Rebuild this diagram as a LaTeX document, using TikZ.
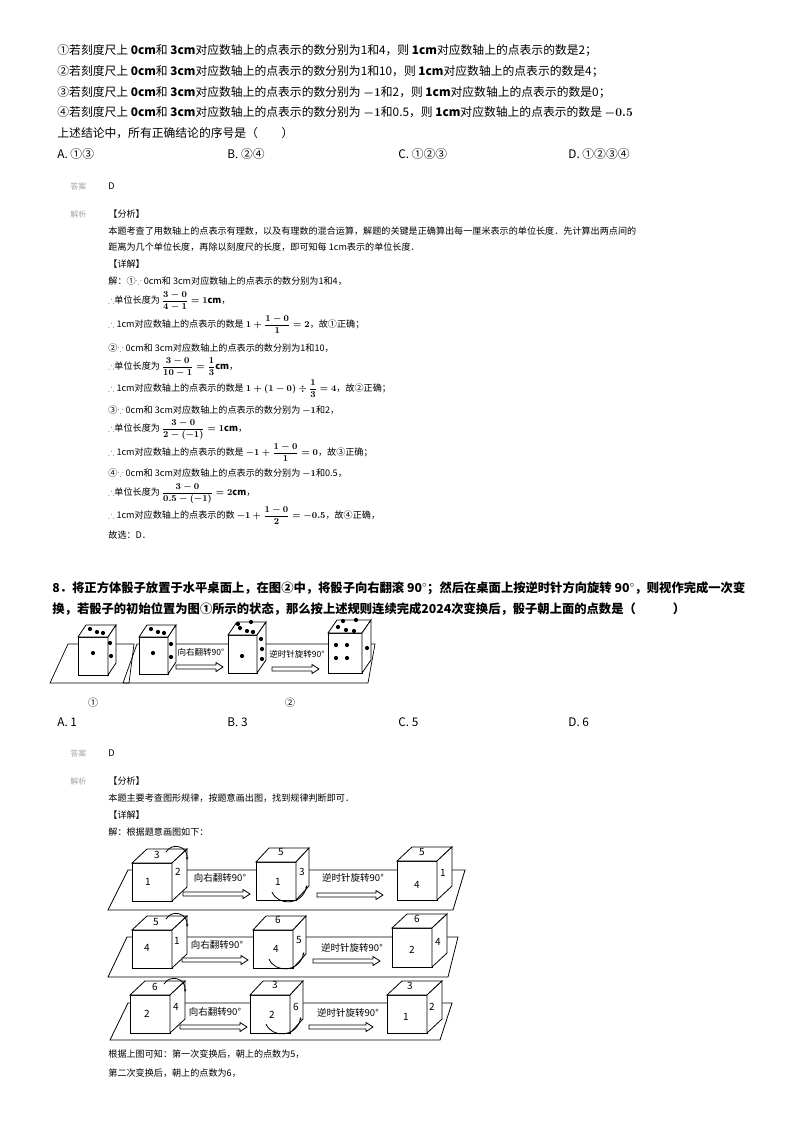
\documentclass[tikz,border=0pt]{standalone}
\usepackage{amsmath,amssymb}
\usepackage{fontspec}
\setmainfont{Noto Sans CJK SC}
\usetikzlibrary{arrows.meta}
\newcommand\dcube[6]{%
 \filldraw[fill=white] (#1,#2) rectangle ++(#3,#4);
 \filldraw[fill=white] (#1,#2) -- ++(#5,-#6) -- ++(#3,0) -- ++(-#5,#6) -- cycle;
 \filldraw[fill=white] (#1+#3,#2) -- ++(#5,-#6) -- ++(0,#4) -- ++(-#5,#6) -- cycle;}
\newcommand\blkarrow[3]{%
 \draw[fill=white] (#1,#3-2) -- (#2-7,#3-2) -- (#2-7,#3-4.5) -- (#2,#3) -- (#2-7,#3+4.5) -- (#2-7,#3+2) -- (#1,#3+2) -- cycle;}
\newcommand\pip[2]{\fill (#1,#2) circle (2.1);}
\tikzset{tx/.style={anchor=west,inner sep=0pt,font=\fontsize{11.8}{13}\selectfont},
 qx/.style={anchor=west,inner sep=0pt,font=\fontsize{12.3}{13}\selectfont\bfseries},
 sm/.style={anchor=west,inner sep=0pt,font=\fontsize{9.1}{10}\selectfont\boldmath},
 gy/.style={anchor=west,inner sep=0pt,font=\fontsize{8}{10}\selectfont,text=gray!70},
 lb/.style={inner sep=0pt,font=\fontsize{9.5}{11}\selectfont},
 lbs/.style={inner sep=0pt,font=\fontsize{8.5}{10}\selectfont},
 nm/.style={inner sep=0pt,font=\fontsize{10}{11}\selectfont}}
\begin{document}
\begin{tikzpicture}[x=1pt,y=-1pt,line width=0.8pt]
\useasboundingbox[fill=white] (0,0) rectangle (794,1124);
% Question 7 options
\node[tx] (l1) at (57,50) {①若刻度尺上 $\mathbf{0cm}$和 $\mathbf{3cm}$对应数轴上的点表示的数分别为1和4，则 $\mathbf{1cm}$对应数轴上的点表示的数是2；};
\node[tx] (l2) at (57,71) {②若刻度尺上 $\mathbf{0cm}$和 $\mathbf{3cm}$对应数轴上的点表示的数分别为1和10，则 $\mathbf{1cm}$对应数轴上的点表示的数是4；};
\node[tx] (l3) at (57,92) {③若刻度尺上 $\mathbf{0cm}$和 $\mathbf{3cm}$对应数轴上的点表示的数分别为 $\boldsymbol{-1}$和2，则 $\mathbf{1cm}$对应数轴上的点表示的数是0；};
\node[tx] (l4) at (57,112) {④若刻度尺上 $\mathbf{0cm}$和 $\mathbf{3cm}$对应数轴上的点表示的数分别为 $\boldsymbol{-1}$和0.5，则 $\mathbf{1cm}$对应数轴上的点表示的数是 $\boldsymbol{-0.5}$};
\node[tx] (l5) at (57,133) {上述结论中，所有正确结论的序号是（\qquad）};
\node[tx] (oa) at (57,154) {A. ①③};
\node[tx] (ob) at (227,154) {B. ②④};
\node[tx] (oc) at (398,154) {C. ①②③};
\node[tx] (od) at (568,154) {D. ①②③④};
% answer 7
\node[gy] (da1) at (70,186) {答案};
\node[sm] (dd1) at (108,186) {D};
\node[gy] (jx1) at (70,214) {解析};
\node[sm] (a1) at (108,214) {【分析】};
\node[sm] (a2) at (108,231) {本题考查了用数轴上的点表示有理数，以及有理数的混合运算，解题的关键是正确算出每一厘米表示的单位长度．先计算出两点间的};
\node[sm] (a3) at (108,247) {距离为几个单位长度，再除以刻度尺的长度，即可知每 1cm表示的单位长度．};
\node[sm] (a4) at (108,264) {【详解】};
\node[sm] (a5) at (108,281) {解：①$\because$ 0cm和 3cm对应数轴上的点表示的数分别为1和4，};
\node[sm] (a6) at (108,301) {$\therefore$单位长度为 $\dfrac{3-0}{4-1}=1\mathrm{cm}$，};
\node[sm] (a7) at (108,325) {$\therefore$ 1cm对应数轴上的点表示的数是 $1+\dfrac{1-0}{1}=2$，故①正确；};
\node[sm] (a8) at (108,348) {②$\because$ 0cm和 3cm对应数轴上的点表示的数分别为1和10，};
\node[sm] (a9) at (108,367) {$\therefore$单位长度为 $\dfrac{3-0}{10-1}=\dfrac{1}{3}\mathrm{cm}$，};
\node[sm] (a10) at (108,389) {$\therefore$ 1cm对应数轴上的点表示的数是 $1+(1-0)\div\dfrac{1}{3}=4$，故②正确；};
\node[sm] (a11) at (108,410) {③$\because$ 0cm和 3cm对应数轴上的点表示的数分别为 $-1$和2，};
\node[sm] (a12) at (108,430) {$\therefore$单位长度为 $\dfrac{3-0}{2-(-1)}=1\mathrm{cm}$，};
\node[sm] (a13) at (108,453) {$\therefore$ 1cm对应数轴上的点表示的数是 $-1+\dfrac{1-0}{1}=0$，故③正确；};
\node[sm] (a14) at (108,473) {④$\because$ 0cm和 3cm对应数轴上的点表示的数分别为 $-1$和0.5，};
\node[sm] (a15) at (108,494) {$\therefore$单位长度为 $\dfrac{3-0}{0.5-(-1)}=2\mathrm{cm}$，};
\node[sm] (a16) at (108,516) {$\therefore$ 1cm对应数轴上的点表示的数 $-1+\dfrac{1-0}{2}=-0.5$，故④正确，};
\node[sm] (a17) at (108,535) {故选：D．};
% Question 8
\node[qx] (q1) at (52,588) {8．将正方体骰子放置于水平桌面上，在图②中，将骰子向右翻滚 $\mathbf{90^\circ}$；然后在桌面上按逆时针方向旋转 $\mathbf{90^\circ}$，则视作完成一次变};
\node[qx] (q2) at (52,609) {换，若骰子的初始位置为图①所示的状态，那么按上述规则连续完成2024次变换后，骰子朝上面的点数是（\qquad\quad）};
% figure
\draw[line width=0.7pt] (50,683) -- (68,644) -- (134,644) -- (129,683) -- cycle;
\draw[line width=0.7pt] (123,683) -- (137,644) -- (375,644) -- (368,683) -- cycle;
\dcube{78}{637}{30}{38}{8}{12}
\pip{90}{629}\pip{97}{632}\pip{103}{633}\pip{93}{653}\pip{110}{643}\pip{111}{656}
\dcube{139}{637}{29}{37}{8}{12}
\pip{151}{629}\pip{158}{632}\pip{164}{633}\pip{153}{653}\pip{171}{644}\pip{171}{657}
\blkarrow{176}{223}{667}
\node[lbs] (r1) at (201,652) {向右翻转90°};
\dcube{228}{635}{29}{38}{9}{13}
\pip{240}{628}\pip{247}{631}\pip{253}{632}\pip{238}{624}\pip{251}{622}\pip{242}{656}\pip{261}{639}\pip{262}{649}\pip{262}{659}
\blkarrow{272}{319}{669}
\node[lbs] (r2) at (297,654) {逆时针旋转90°};
\dcube{328}{633}{34}{40}{9}{13}
\pip{338}{627}\pip{346}{630}\pip{354}{631}\pip{343}{621}\pip{356}{620}\pip{336}{645}\pip{347}{645}\pip{336}{658}\pip{347}{658}\pip{367}{648}
\node[nm] (c1) at (93,703) {①};
\node[nm] (c2) at (290,703) {②};
\node[tx] (pa) at (57,722) {A. 1};
\node[tx] (pb) at (227,722) {B. 3};
\node[tx] (pc) at (398,722) {C. 5};
\node[tx] (pd) at (568,722) {D. 6};
% answer 8
\node[gy] (da2) at (70,753) {答案};
\node[sm] (dd2) at (108,753) {D};
\node[gy] (jx2) at (70,781) {解析};
\node[sm] (b1) at (108,781) {【分析】};
\node[sm] (b2) at (108,798) {本题主要考查图形规律，按题意画出图，找到规律判断即可．};
\node[sm] (b3) at (108,815) {【详解】};
\node[sm] (b4) at (108,832) {解：根据题意画图如下：};
% row 1
\draw (108,910) -- (128,870) -- (465,870) -- (453,910) -- cycle;
\dcube{132}{863}{40}{38}{15}{14}
\node[nm] at (148,882) {1};\node[nm] at (157,855) {3};\node[nm] at (178,872) {2};
\draw[-{Stealth[length=3pt]}] (166,852) .. controls (172,842) and (188,846) .. (187,860);
\blkarrow{183}{250}{894}
\node[lb] (s1) at (220,878) {向右翻转90°};
\dcube{256}{862}{40}{38}{13}{14}
\node[nm] at (278,882) {1};\node[nm] at (281,852) {5};\node[nm] at (302,872) {3};
\draw[-{Stealth[length=3pt]}] (272,892) .. controls (278,906) and (302,906) .. (307,885);
\blkarrow{317}{383}{895}
\node[lb] (s2) at (353,878) {逆时针旋转90°};
\dcube{397}{861}{40}{39}{15}{14}
\node[nm] at (417,885) {4};\node[nm] at (422,852) {5};\node[nm] at (443,873) {1};
% row 2
\draw (108,977) -- (127,937) -- (458,937) -- (448,977) -- cycle;
\dcube{132}{930}{40}{38}{15}{14}
\node[nm] at (147,948) {4};\node[nm] at (156,922) {5};\node[nm] at (177,941) {1};
\draw[-{Stealth[length=3pt]}] (166,919) .. controls (172,909) and (188,913) .. (187,927);
\blkarrow{182}{248}{960}
\node[lb] (s3) at (217,945) {向右翻转90°};
\dcube{253}{930}{40}{38}{13}{14}
\node[nm] at (276,949) {4};\node[nm] at (278,920) {6};\node[nm] at (299,940) {5};
\draw[-{Stealth[length=3pt]}] (269,959) .. controls (275,973) and (299,973) .. (304,952);
\blkarrow{313}{380}{961}
\node[lb] (s4) at (352,948) {逆时针旋转90°};
\dcube{392}{928}{40}{39}{15}{14}
\node[nm] at (412,950) {2};\node[nm] at (417,919) {6};\node[nm] at (438,942) {4};
% row 3
\draw (110,1040) -- (128,1003) -- (452,1003) -- (440,1040) -- cycle;
\dcube{130}{995}{40}{38}{15}{14}
\node[nm] at (147,1014) {2};\node[nm] at (155,987) {6};\node[nm] at (176,1007) {4};
\draw[-{Stealth[length=3pt]}] (164,984) .. controls (170,974) and (186,978) .. (185,992);
\blkarrow{180}{247}{1027}
\node[lb] (s5) at (215,1012) {向右翻转90°};
\dcube{250}{995}{40}{38}{13}{14}
\node[nm] at (272,1015) {2};\node[nm] at (275,985) {3};\node[nm] at (296,1007) {6};
\draw[-{Stealth[length=3pt]}] (266,1024) .. controls (272,1038) and (296,1038) .. (301,1017);
\blkarrow{309}{373}{1027}
\node[lb] (s6) at (348,1013) {逆时针旋转90°};
\dcube{387}{995}{40}{38}{15}{14}
\node[nm] at (406,1017) {1};\node[nm] at (410,986) {3};\node[nm] at (432,1007) {2};
\node[sm] (e1) at (108,1054) {根据上图可知：第一次变换后，朝上的点数为5，};
\node[sm] (e2) at (108,1073) {第二次变换后，朝上的点数为6，};
\end{tikzpicture}
\end{document}
